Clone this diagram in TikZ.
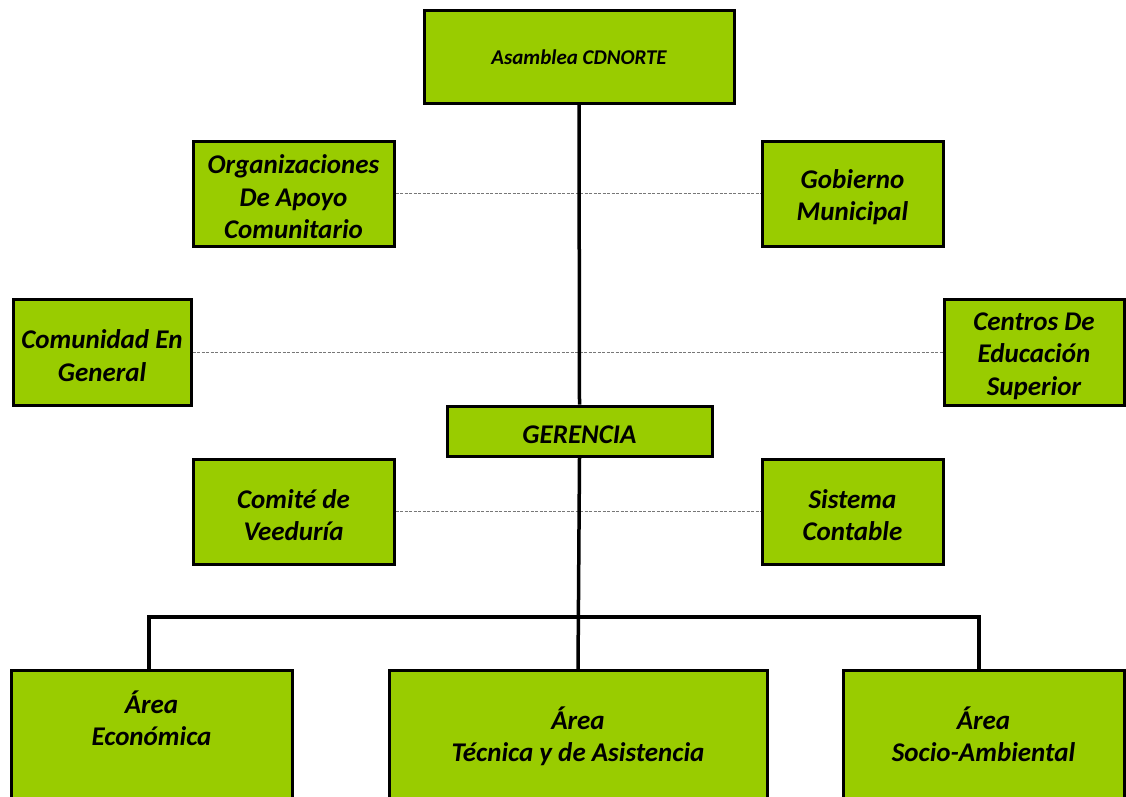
\documentclass[tikz,border=0pt]{standalone}
\usepackage{fontspec}
\setmainfont{Carlito}
\usetikzlibrary{positioning}
\definecolor{boxfill}{HTML}{99CC00}
\definecolor{dashgray}{HTML}{777777}
\tikzset{
  box/.style={draw=black, fill=boxfill, line width=3pt, align=center, inner sep=0pt,
    font=\fontsize{27}{32.5}\selectfont\bfseries\itshape},
  areabox/.style={box, anchor=north, minimum height=160},
  trunk/.style={draw=black, line width=3.5pt},
  side/.style={draw=dashgray, line width=1pt, dash pattern=on 3pt off 1.5pt}
}
\newcommand{\lift}{\rule{0pt}{26pt}}
\newcommand{\areatext}[3]{\parbox[t][150pt][t]{#1}{\centering\vspace*{#2}#3}}

\begin{document}
\begin{tikzpicture}[x=1pt, y=-1pt]
  \useasboundingbox (0,0) rectangle (1126,797);
  \clip (0,0) rectangle (1126,797);

  % top level
  \node[box, minimum width=310, minimum height=93,
        font=\fontsize{21}{25}\selectfont\bfseries\itshape] (asam) at (579,57) {Asamblea CDNORTE};

  % support bodies
  \node[box, minimum width=201, minimum height=105] (org) at (293.5,193.5) {\lift Organizaciones\\De Apoyo\\Comunitario};
  \node[box, minimum width=181, minimum height=105] (gob) at (852.5,193.5) {\lift Gobierno\\Municipal};
  \node[box, minimum width=178, minimum height=106] (com) at (102,352) {\lift Comunidad En\\General};
  \node[box, minimum width=180, minimum height=106] (cen) at (1034,352) {\lift Centros De\\Educación\\Superior};

  \node[box, minimum width=265, minimum height=50] (ger) at (579.5,431) {\lift GERENCIA};

  \node[box, minimum width=201, minimum height=105] (vee) at (293.5,511.5) {\lift Comité de\\Veeduría};
  \node[box, minimum width=181, minimum height=105] (con) at (852.5,511.5) {\lift Sistema\\Contable};

  % areas
  \node[areabox, minimum width=281] (eco) at (151.5,669) {\areatext{270pt}{15pt}{Área\\Económica}};
  \node[areabox, minimum width=378] (tec) at (578,669) {\areatext{370pt}{31pt}{Área\\Técnica y de Asistencia}};
  \node[areabox, minimum width=281] (soc) at (983.5,669) {\areatext{270pt}{31pt}{Área\\Socio-Ambiental}};

  % dotted links
  \draw[side] (org.east) -- (gob.west);
  \draw[side] (com.east) -- (cen.west);
  \draw[side] (vee.east) -- (con.west);

  % main lines
  \draw[trunk] (asam.south) -- (ger.north);
  \draw[trunk] (ger.south) -- (tec.north);
  \coordinate (bus) at (579,617);
  \draw[trunk] (eco.north -| 149,0) |- (bus) -| (soc.north -| 979,0);
\end{tikzpicture}
\end{document}
